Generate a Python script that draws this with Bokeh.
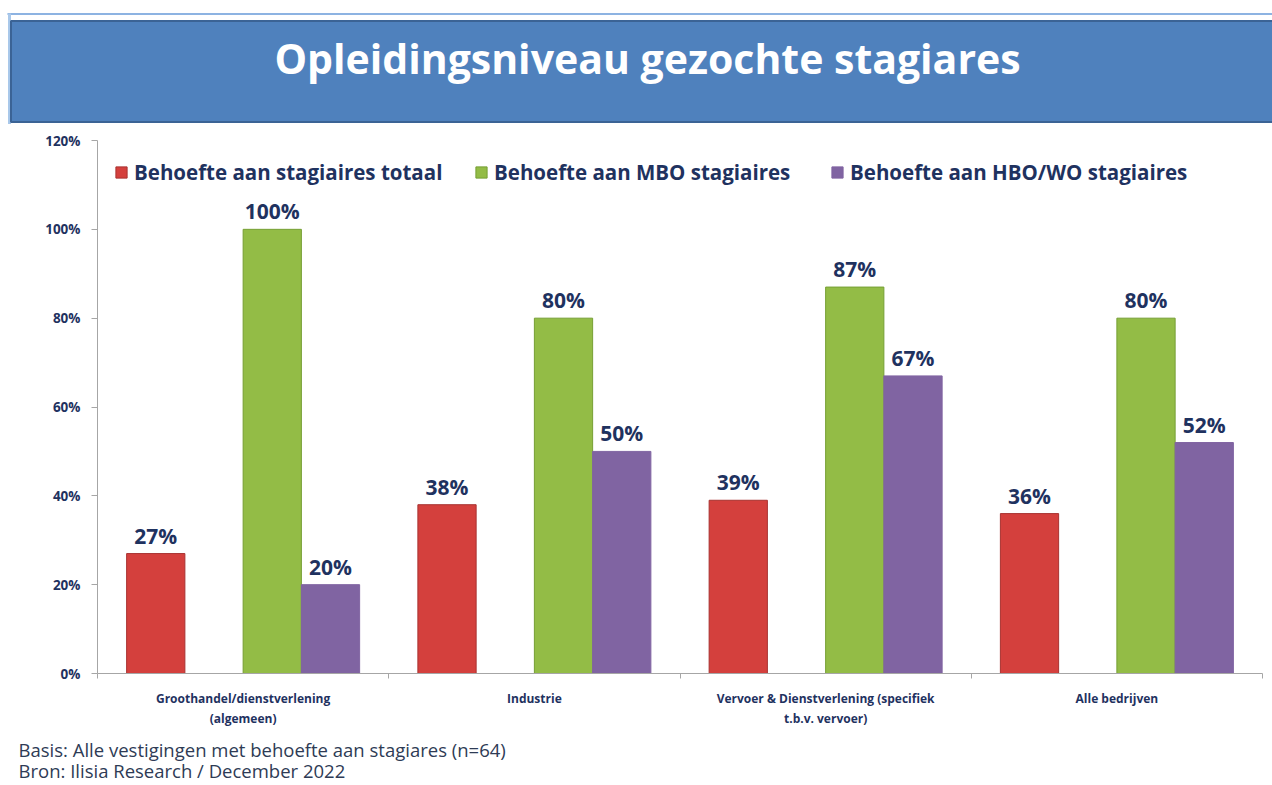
from bokeh.plotting import figure
from bokeh.models import (Range1d, FixedTicker, PrintfTickFormatter, Legend,
                          LegendItem, LabelSet, ColumnDataSource)
from bokeh.layouts import column
from bokeh.core.properties import value
from bokeh.embed import file_html
from bokeh.resources import INLINE

# ---------------- data ----------------
title_text = "Opleidingsniveau gezochte stagiares"
categories = ["Groothandel/dienstverlening\n(algemeen)",
              "Industrie",
              "Vervoer & Dienstverlening (specifiek\nt.b.v. vervoer)",
              "Alle bedrijven"]
series_names = ["Behoefte aan stagiaires totaal",
                "Behoefte aan MBO stagiaires",
                "Behoefte aan HBO/WO stagiaires"]
totaal = [27, 38, 39, 36]
mbo = [100, 80, 87, 80]
hbo = [20, 50, 67, 52]
y_ticks = [0, 20, 40, 60, 80, 100, 120]
footnotes = ["Basis: Alle vestigingen met behoefte aan stagiares (n=64)",
             "Bron: Ilisia Research / December 2022"]

# ---------------- styles ----------------
NAVY = "#1F325F"
FONT = "Open Sans"
fills = ["#D4403D", "#93BC46", "#8064A2"]
lines = ["#A83230", "#769F34", "#8064A2"]
slot = [0.2, 0.6, 0.8]
bar_w = 0.2
W = 1272
H_TITLE = 124
H_CHART = 609
H_FOOT = 52


def blank_fig(h):
    f = figure(width=W, height=h, x_range=Range1d(0, W), y_range=Range1d(h, 0),
               toolbar_location=None, output_backend="svg", min_border=0,
               x_axis_location=None, y_axis_location=None)
    f.frame_align = False
    f.outline_line_color = None
    f.grid.visible = False
    return f


# ---------------- title bar ----------------
tf = blank_fig(H_TITLE)
tf.line([7, W], [13.5, 13.5], line_color="#8DB3E2", line_width=2)
tf.line([9, 9], [13, H_TITLE], line_color="#A9C8EA", line_width=3)
tf.quad(left=10.5, right=W + 2, top=20.5, bottom=121.5, fill_color="#4F81BD",
        line_color="#3B6395", line_width=2)
tf.text(x=[647], y=[57], text=[title_text], text_color="white",
        text_font=value(FONT), text_font_style="bold", text_font_size="41px",
        text_align="center", text_baseline="middle")

# ---------------- chart ----------------
p = figure(width=W, height=H_CHART, x_range=Range1d(0, len(categories)),
           y_range=Range1d(0, 120), toolbar_location=None, output_backend="svg",
           min_border_left=97, min_border_right=10, min_border_top=16,
           min_border_bottom=60)
p.frame_align = False
p.outline_line_color = None
p.grid.visible = False
p.background_fill_color = "white"
p.border_fill_color = "white"

renderers = []
for s, vals in enumerate([totaal, mbo, hbo]):
    xs = [i + slot[s] for i in range(len(categories))]
    src = ColumnDataSource(dict(x=xs, top=vals, lab=[f"{v}%" for v in vals]))
    r = p.vbar(x="x", top="top", width=bar_w, bottom=0, source=src,
               fill_color=fills[s], line_color=lines[s], line_width=1)
    renderers.append(r)
    p.add_layout(LabelSet(x="x", y="top", text="lab", source=src,
                          text_color=NAVY, text_font=value(FONT),
                          text_font_style="bold", text_font_size="21px",
                          text_align="center", text_baseline="alphabetic",
                          y_offset=10))

# y axis
ya = p.yaxis[0]
ya.ticker = FixedTicker(ticks=y_ticks, minor_ticks=[])
ya.formatter = PrintfTickFormatter(format="%d%%")
ya.axis_line_color = "#A6A6A6"
ya.major_tick_line_color = "#A6A6A6"
ya.major_tick_out = 6
ya.major_tick_in = 0
ya.minor_tick_line_color = None
ya.major_label_standoff = 11
ya.major_label_text_font = FONT
ya.major_label_text_font_style = "bold"
ya.major_label_text_font_size = "13.5px"
ya.major_label_text_color = NAVY

# x axis
xa = p.xaxis[0]
centers = [i + 0.5 for i in range(len(categories))]
xa.ticker = FixedTicker(ticks=centers, minor_ticks=list(range(len(categories) + 1)))
xa.major_label_overrides = {c: lab for c, lab in zip(centers, categories)}
xa.axis_line_color = "#A6A6A6"
xa.major_tick_line_color = None
xa.minor_tick_line_color = "#A6A6A6"
xa.minor_tick_out = 5
xa.minor_tick_in = 0
xa.major_label_standoff = 10
xa.major_label_text_font = FONT
xa.major_label_text_font_style = "bold"
xa.major_label_text_font_size = "12px"
xa.major_label_text_color = NAVY

# legends (one per series, positioned like the reference)
leg_x = [17, 377, 733]
for s in range(3):
    leg = Legend(items=[LegendItem(label=series_names[s], renderers=[renderers[s]])],
                 location=(leg_x[s], 487), orientation="horizontal",
                 margin=0, padding=0, spacing=0,
                 glyph_width=14, glyph_height=14, label_standoff=6,
                 label_height=20,
                 label_text_font=FONT, label_text_font_style="bold",
                 label_text_font_size="20.5px", label_text_color=NAVY,
                 background_fill_alpha=0, border_line_color=None)
    p.add_layout(leg)

# ---------------- footnotes ----------------
ff = blank_fig(H_FOOT)
ff.text(x=[18, 18], y=[16, 37], text=footnotes, text_color="#2E3B55",
        text_font=value(FONT), text_font_size="18.5px",
        text_align="left", text_baseline="middle")

layout = column(tf, p, ff, spacing=0)
open("out.html", "w").write(file_html(layout, INLINE))
